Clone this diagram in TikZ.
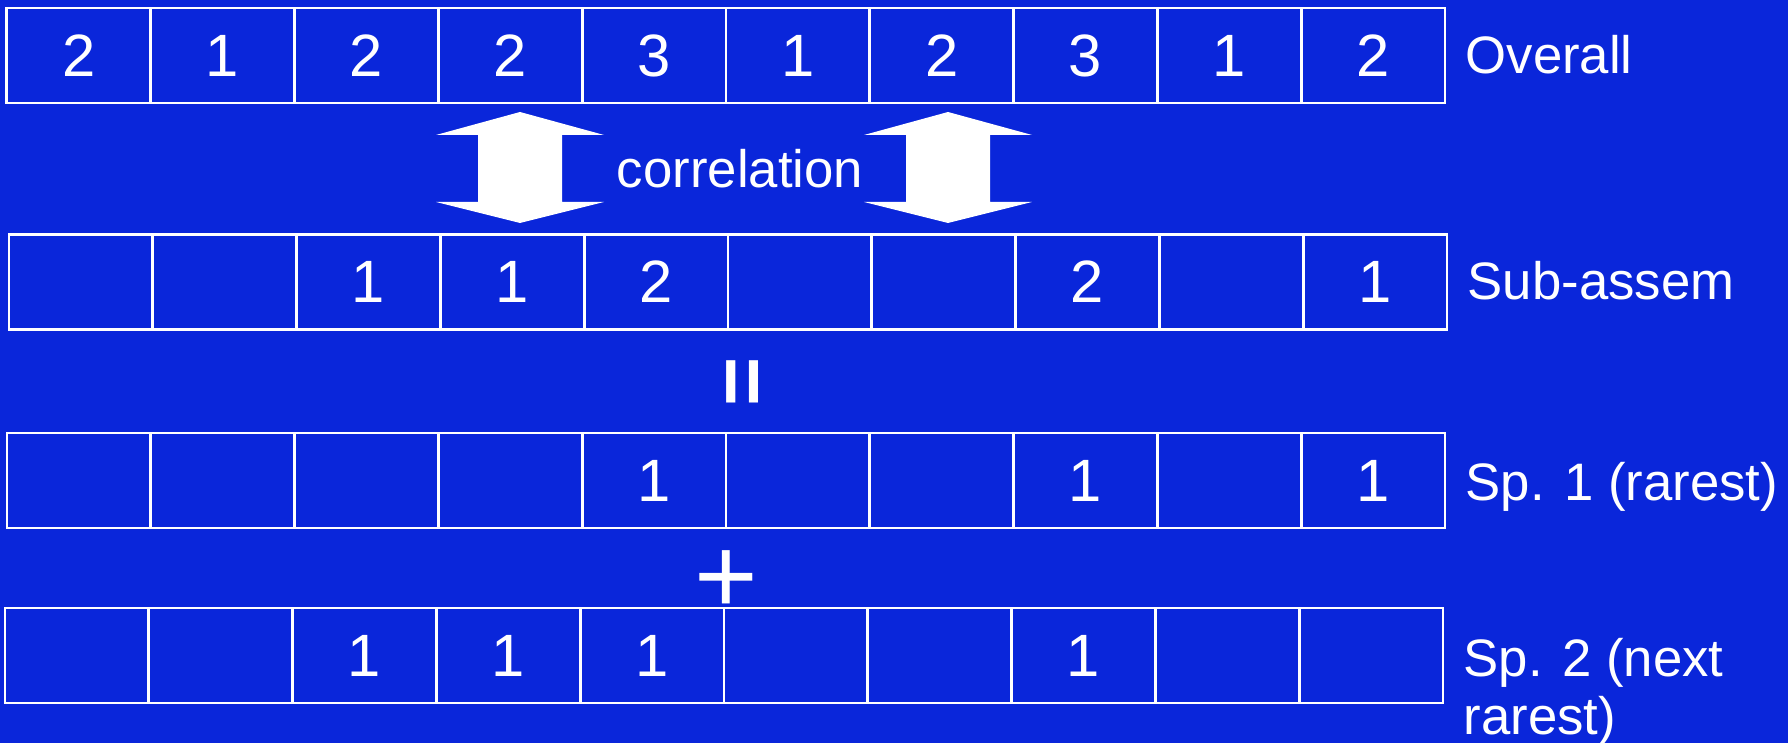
\documentclass[tikz,border=0pt]{standalone}
\usepackage{fontspec}
\setmainfont{Liberation Sans}
\usetikzlibrary{positioning}
\definecolor{slideblue}{RGB}{10,38,218}

\begin{document}
\begin{tikzpicture}[
  cell/.style={draw=white, line width=0.8pt, minimum width=1.438cm, minimum height=0.95cm,
    inner sep=0pt, outer sep=0pt, text=white, font=\fontsize{17}{20}\selectfont},
  lbl/.style={text=white, inner sep=0pt, font=\fontsize{15}{16.5}\selectfont, align=left},
  sign/.style={text=white, inner sep=0pt}]
\fill[slideblue] (0,0) rectangle (17.88,-7.43);
\useasboundingbox (0,0) rectangle (17.88,-7.43);
% the four rows of counts
\foreach \v [count=\i] in {2,1,2,2,3,1,2,3,1,2}
  \node[cell] (o\i) at ({0.069+(\i-0.5)*1.438},-0.555) {\v};
\foreach \v [count=\i] in {{},{},1,1,2,{},{},2,{},1}
  \node[cell] (s\i) at ({0.09+(\i-0.5)*1.438},-2.82) {\v};
\foreach \v [count=\i] in {{},{},{},{},1,{},{},1,{},1}
  \node[cell] (a\i) at ({0.07+(\i-0.5)*1.438},-4.805) {\v};
\foreach \v [count=\i] in {{},{},1,1,1,{},{},1,{},{}}
  \node[cell] (b\i) at ({0.05+(\i-0.5)*1.438},-6.555) {\v};
% row names
\node[lbl, right=0.2cm of o10, anchor=base west, yshift=-0.18cm] (overall) {Overall};
\node[lbl, right=0.2cm of s10, anchor=base west, yshift=-0.18cm] (subassem) {Sub-assem};
\node[lbl, right=0.2cm of a10, anchor=base west, yshift=-0.2cm] (sp1) {Sp. 1 (rarest)};
\node[lbl, right=0.2cm of b10, anchor=base west, yshift=-0.79cm] (sp2) {Sp. 2 (next\\rarest)};
% correlation arrows
\foreach \ax in {5.20,9.48}
  \fill[white] (\ax,-1.12) -- ++(0.84,-0.23) -- ++(-0.42,0) -- ++(0,-0.67) -- ++(0.42,0)
    -- (\ax,-2.23) -- ++(-0.84,0.21) -- ++(0.42,0) -- ++(0,0.67) -- ++(-0.42,0) -- cycle;
\node[lbl] (corr) at (7.40,-1.69) {correlation};
\node[sign, rotate=90, font=\fontsize{24}{24}\selectfont\bfseries] (eq) at (7.49,-3.82) {=};
\node[sign, font=\fontsize{31}{31}\selectfont] (plus) at (7.26,-5.82) {+};
\end{tikzpicture}
\end{document}
